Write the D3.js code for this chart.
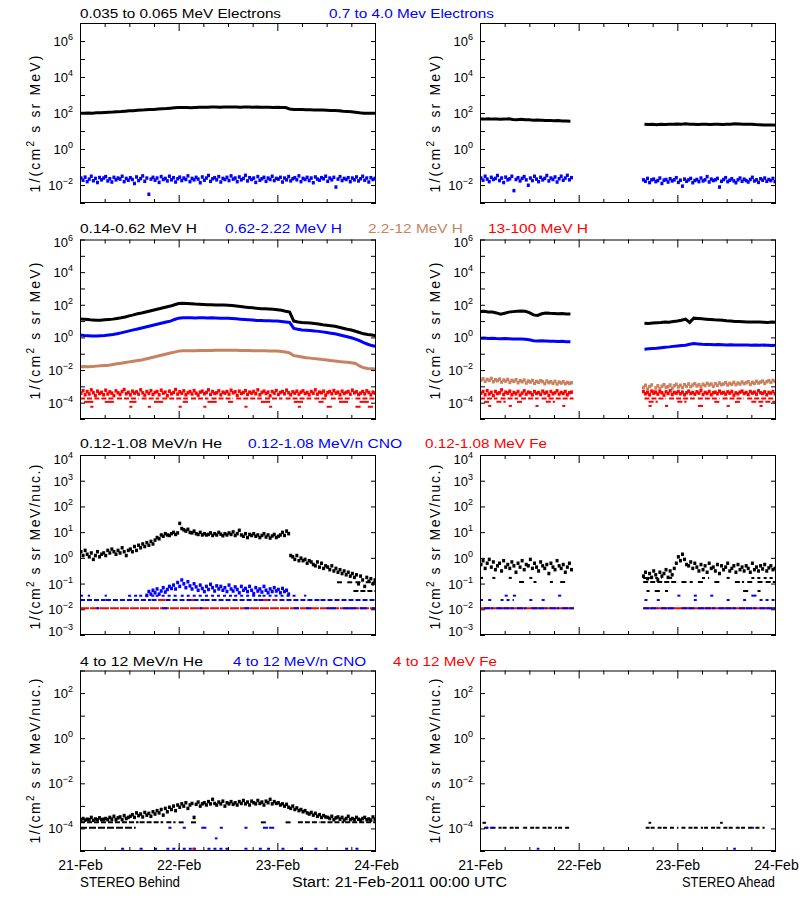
<!DOCTYPE html>
<html><head><meta charset="utf-8">
<script src="https://cdn.jsdelivr.net/npm/d3@7"></script>
<style>body{margin:0;background:#fff}svg{display:block}text{font-family:"Liberation Sans",Arial,sans-serif}</style>
</head><body><svg id="c" width="800" height="900"></svg>
<script>
// ---------- time grids (hours since 21-Feb-2011 00:00) ----------
const tHour = d3.range(0, 73);
const tHalf = d3.range(0.25, 72, 0.5);
const tHourA = d3.range(0, 23).concat(d3.range(40, 73));
const tHalfA = d3.range(0.25, 22.5, 0.5).concat(d3.range(39.75, 72, 0.5));
const tCNOB = d3.range(16.25, 51, 0.5);
const dateTicks = [0, 24, 48, 72];
const dateLabels = ['21-Feb', '22-Feb', '23-Feb', '24-Feb'];

// ---------- values (log10 of intensity) ----------
// Row 1: electrons
const eLoB = [1.98,1.98,2.0,1.99,2.01,2.02,2.03, 2.04,2.05,2.07,2.08,2.1,2.12, 2.13,2.15,2.16,2.18,2.19,2.2, 2.22,2.24,2.25,2.27,2.29,2.31,
 2.3,2.3,2.29,2.31,2.32,2.32, 2.32,2.33,2.33,2.32,2.33,2.34, 2.33,2.33,2.32,2.33,2.33,2.32, 2.33,2.32,2.32,2.32,2.31,2.32,
 2.31,2.3,2.22,2.2,2.2,2.19, 2.18,2.18,2.17,2.16,2.16,2.15, 2.14,2.14,2.12,2.1,2.09,2.07, 2.04,2.01,1.99,1.98,1.98,1.98];
const eHiB = [-1.6,-1.72,-1.55,-1.8,-1.66,-1.5,-1.75,-1.62,-1.85,-1.57,-1.7,-1.6,
 -1.52,-1.76,-1.64,-1.82,-1.56,-1.7,-1.6,-1.66,-1.5,-1.8,-1.62,-1.72,
 -1.58,-1.68,-1.9,-1.54,-1.74,-1.63,-1.48,-1.78,-1.6,-2.5,-1.66,-1.56,
 -1.72,-1.6,-1.84,-1.52,-1.68,-1.62,-1.76,-1.5,-1.7,-1.58,-1.82,-1.64,
 -1.55,-1.74,-1.6,-1.68,-1.48,-1.8,-1.62,-1.7,-1.56,-1.66,-1.86,-1.54,
 -1.72,-1.6,-1.46,-1.78,-1.64,-1.58,-1.7,-1.52,-1.82,-1.62,-1.68,-1.56,
 -1.74,-1.48,-1.66,-1.6,-1.8,-1.54,-1.7,-1.62,-1.45,-1.76,-1.58,-1.68,
 -1.6,-1.84,-1.52,-1.72,-1.64,-1.56,-1.78,-1.6,-1.68,-1.5,-1.74,-1.62,
 -1.66,-1.56,-1.82,-1.6,-1.7,-1.52,-1.76,-1.64,-1.58,-1.7,-1.48,-1.8,
 -1.62,-1.68,-1.56,-1.74,-1.6,-1.86,-1.54,-1.66,-1.72,-1.58,-1.64,-1.5,
 -1.78,-1.6,-1.7,-1.56,-2.1,-1.66,-1.52,-1.74,-1.62,-1.68,-1.58,-1.8,
 -1.6,-1.7,-1.54,-1.76,-1.64,-1.5,-1.72,-1.6,-1.82,-1.58,-1.68,-1.62];
const eLoA = [1.67,1.66,1.68,1.66,1.67,1.65,1.66,1.68,1.64,1.63,1.65,1.62,1.63,1.6,1.61,1.6,1.58,1.59,1.57,1.58,1.56,1.55,1.54,
 1.38,1.36,1.37,1.35,1.37,1.36,1.38,1.37,1.39,1.38,1.4,1.37,1.38,1.36,1.37,1.38,1.36,1.37,1.38,1.36,1.37,1.38,1.4,1.39,1.38,1.37,1.38,1.36,1.35,1.34,1.33,1.34,1.32];
const eHiA = [-1.6,-1.72,-1.5,-1.66,-1.8,-1.56,-1.68,-1.62,-1.46,-1.74,-1.6,-1.85,-1.55,-1.7,-1.64,-1.5,-2.3,-1.68,-1.58,-1.76,
 -1.62,-1.52,-1.7,-2.0,-1.6,-1.74,-1.5,-1.66,-1.8,-1.56,-1.7,-1.62,-1.46,-1.76,-1.6,-1.68,-1.54,-1.82,-1.64,-1.5,-1.72,-1.6,-1.45,-1.7,-1.58,
 -1.7,-1.78,-1.62,-1.85,-1.7,-1.66,-1.8,-1.74,-1.6,-1.9,-1.72,-1.68,-1.82,-1.64,-1.76,-1.7,-1.58,-1.84,-1.72,-2.05,
 -1.66,-1.78,-1.7,-1.62,-1.86,-1.74,-1.68,-1.8,-1.6,-1.76,-1.7,-1.52,-1.82,-1.66,-1.74,-1.7,-1.62,-2.1,-1.78,-1.68,
 -1.58,-1.8,-1.72,-1.64,-1.76,-1.86,-1.7,-1.6,-1.78,-1.66,-1.74,-1.82,-1.68,-1.56,-1.76,-1.7,-1.84,-1.64,-1.72,-1.6,
 -1.78,-1.68,-1.74,-1.62,-1.8];

// Row 2: protons
const h1B = [1.13,1.12,1.1,1.06,1.05,1.05,1.08, 1.1,1.12,1.16,1.2,1.25,1.32, 1.38,1.45,1.5,1.56,1.62,1.68, 1.74,1.8,1.86,1.92,2.0,2.08,
 2.1,2.08,2.06,2.04,2.03,2.02, 2.0,2.0,1.99,1.98,1.98,1.97, 1.95,1.93,1.9,1.86,1.84,1.82, 1.78,1.76,1.75,1.74,1.73,1.7,
 1.66,1.6,1.55,1.0,0.95,0.92, 0.9,0.88,0.85,0.82,0.78,0.75, 0.72,0.68,0.62,0.56,0.5,0.45, 0.38,0.3,0.22,0.18,0.15,0.1];
const h2B = [0.15,0.12,0.1,0.08,0.08,0.1,0.12, 0.15,0.18,0.22,0.28,0.34,0.4, 0.46,0.52,0.58,0.64,0.7,0.76, 0.82,0.88,0.94,1.0,1.1,1.18,
 1.2,1.2,1.2,1.19,1.2,1.2, 1.19,1.2,1.19,1.18,1.18,1.17, 1.16,1.14,1.12,1.1,1.08,1.06, 1.04,1.03,1.02,1.02,1.01,1.0,
 0.98,0.95,0.92,0.55,0.5,0.46, 0.44,0.42,0.4,0.37,0.34,0.3, 0.26,0.22,0.16,0.1,0.04,-0.02, -0.1,-0.2,-0.32,-0.42,-0.5,-0.56];
const h3B = [-1.8,-1.79,-1.8,-1.78,-1.76,-1.74,-1.72, -1.7,-1.66,-1.62,-1.58,-1.54,-1.5, -1.46,-1.42,-1.38,-1.32,-1.26,-1.2,
 -1.14,-1.08,-1.02,-0.96,-0.9,-0.84, -0.82,-0.82,-0.81,-0.81,-0.8,-0.8, -0.8,-0.8,-0.79,-0.79,-0.78,-0.78,
 -0.78,-0.79,-0.8,-0.8,-0.8,-0.81, -0.81,-0.82,-0.82,-0.83,-0.83,-0.84, -0.86,-0.9,-0.95,-1.12,-1.16,-1.2,
 -1.24,-1.27,-1.3,-1.33,-1.36,-1.38, -1.42,-1.45,-1.48,-1.5,-1.52,-1.55, -1.6,-1.75,-1.86,-1.9,-1.92,-1.94];
const h4B = [-3.4,-3.25,-3.5,-3.3,-3.45,-3.2,-3.38,-3.55,-3.28,-3.42,-3.35,-3.5,
 -3.22,-3.45,-3.32,-3.4,-3.55,-3.26,-3.38,-3.48,-3.3,-3.18,-3.44,-3.35,
 -3.5,-3.28,-3.4,-3.32,-3.46,-3.2,-3.38,-3.52,-3.3,-3.42,-3.25,-3.48,
 -3.36,-3.3,-3.5,-3.22,-3.4,-3.34,-3.56,-3.28,-3.44,-3.36,-3.18,-3.46,
 -3.32,-3.4,-3.26,-3.5,-3.38,-3.3,-3.45,-3.24,-3.4,-3.52,-3.34,-3.28,
 -3.44,-3.36,-3.2,-3.48,-3.3,-3.42,-3.38,-3.26,-3.5,-3.34,-3.4,-3.3,
 -3.46,-3.22,-3.38,-3.32,-3.54,-3.28,-3.42,-3.36,-3.25,-3.48,-3.34,-3.4,
 -3.3,-3.44,-3.2,-3.5,-3.36,-3.28,-3.42,-3.34,-3.56,-3.3,-3.4,-3.24,
 -3.48,-3.36,-3.3,-3.44,-3.22,-3.38,-3.5,-3.32,-3.4,-3.28,-3.46,-3.34,
 -3.26,-3.42,-3.36,-3.5,-3.3,-3.4,-3.2,-3.46,-3.34,-3.38,-3.28,-3.52,
 -3.36,-3.3,-3.44,-3.24,-3.4,-3.34,-3.5,-3.28,-3.42,-3.36,-3.3,-3.46,
 -3.22,-3.38,-3.32,-3.48,-3.4,-3.3,-3.44,-3.26,-3.36,-3.5,-3.34,-3.4];
const h1A = [1.58,1.6,1.56,1.55,1.5,1.42,1.48,1.55,1.58,1.6,1.62,1.6,1.52,1.38,1.35,1.45,1.5,1.48,1.47,1.45,1.46,1.44,1.43,
 0.87,0.85,0.88,0.9,0.92,0.95,0.93,0.97,1.0,1.05,1.12,0.92,1.18,1.16,1.14,1.12,1.1,1.08,1.07,1.05,1.02,1.0,0.98,0.97,0.96,0.95,0.95,0.94,0.94,0.93,0.92,0.94,0.93];
const h2A = [-0.05,-0.04,-0.06,-0.05,-0.07,-0.08,-0.06,-0.08,-0.1,-0.09,-0.1,-0.12,-0.15,-0.2,-0.22,-0.2,-0.22,-0.24,-0.23,-0.25,-0.24,-0.26,-0.27,
 -0.72,-0.7,-0.68,-0.66,-0.63,-0.6,-0.58,-0.55,-0.52,-0.5,-0.48,-0.42,-0.38,-0.4,-0.42,-0.43,-0.44,-0.45,-0.44,-0.45,-0.46,-0.45,-0.46,-0.47,-0.46,-0.47,-0.48,-0.47,-0.48,-0.47,-0.48,-0.49,-0.48];
const h3A = [-2.6,-2.52,-2.68,-2.56,-2.62,-2.5,-2.7,-2.58,-2.64,-2.54,-2.72,-2.6,-2.66,-2.56,-2.74,-2.62,-2.68,-2.58,-2.76,-2.64,
 -2.7,-2.6,-2.78,-2.66,-2.72,-2.62,-2.8,-2.68,-2.74,-2.64,-2.7,-2.82,-2.66,-2.76,-2.7,-2.8,-2.68,-2.84,-2.72,-2.78,-2.7,-2.82,-2.74,-2.8,-2.76,
 -3.05,-2.92,-3.15,-3.0,-2.9,-3.3,-3.08,-2.95,-3.12,-2.98,-2.88,-3.05,-3.0,-2.9,-3.1,-2.95,-2.86,-3.02,-2.92,-3.06,
 -2.88,-2.98,-2.84,-3.0,-2.9,-2.82,-2.96,-2.88,-3.02,-2.86,-2.94,-2.8,-2.9,-2.84,-2.98,-2.82,-2.92,-2.78,-2.88,-2.84,
 -2.76,-2.9,-2.8,-2.86,-2.74,-2.88,-2.78,-2.84,-2.72,-2.82,-2.76,-2.7,-2.86,-2.74,-2.8,-2.68,-2.78,-2.72,-2.66,-2.8,
 -2.7,-2.64,-2.74,-2.62,-2.68];
const h4A = [-3.4,-3.3,-3.5,-3.25,-3.45,-3.35,-3.55,-3.3,-3.42,-3.38,-3.2,-3.48,-3.34,-3.4,-3.28,-3.5,-3.36,-3.44,-3.3,-3.52,
 -3.4,-3.26,-3.46,-3.34,-3.38,-3.5,-3.3,-3.42,-3.36,-3.48,-3.28,-3.4,-3.34,-3.54,-3.3,-3.44,-3.38,-3.26,-3.46,-3.36,-3.42,-3.3,-3.5,-3.38,-3.34,
 -3.3,-3.44,-3.36,-3.5,-3.28,-3.4,-3.34,-3.46,-3.3,-3.38,-3.52,-3.32,-3.42,-3.26,-3.48,-3.36,-3.4,-3.3,-3.44,-3.34,
 -3.5,-3.38,-3.28,-3.42,-3.36,-3.46,-3.32,-3.4,-3.24,-3.48,-3.36,-3.42,-3.3,-3.5,-3.38,-3.34,-3.44,-3.28,-3.4,-3.36,
 -3.46,-3.32,-3.4,-3.3,-3.52,-3.38,-3.44,-3.34,-3.28,-3.42,-3.36,-3.48,-3.3,-3.4,-3.34,-3.46,-3.26,-3.38,-3.42,-3.32,
 -3.5,-3.36,-3.4,-3.3,-3.44];

// Row 3: low energy ions
const heB = [0.25,0.1,0.3,0.15,0.05,0.2,-0.05,0.1,0.25,0.05,0.15,0.2,
 0.1,0.3,0.2,0.35,0.25,0.15,0.3,0.2,0.4,0.25,0.1,0.3,
 0.35,0.25,0.45,0.3,0.5,0.4,0.55,0.45,0.6,0.5,0.65,0.55,
 0.7,0.8,0.75,0.9,0.85,0.95,0.9,0.88,0.95,1.0,0.92,0.98,
 1.35,1.15,1.1,1.05,1.12,1.0,0.98,1.05,0.95,0.92,1.0,0.9,
 0.95,0.9,0.92,0.98,0.88,0.95,0.9,1.0,0.93,0.87,0.95,0.9,
 0.98,0.92,1.02,0.88,0.95,1.08,0.9,0.85,0.95,0.8,0.92,0.88,
 0.95,0.85,0.9,0.8,0.88,0.95,0.82,0.9,0.78,0.86,0.92,0.8,
 0.85,0.9,1.0,0.88,1.05,0.95,0.1,0.05,-0.05,0.1,-0.1,0.0,
 -0.1,-0.05,-0.2,-0.1,-0.15,-0.25,-0.3,-0.15,-0.35,-0.2,-0.4,-0.3,
 -0.35,-0.45,-0.3,-0.5,-0.4,-0.55,-0.45,-0.6,-0.5,-0.65,-0.55,-0.7,
 -0.6,-0.75,-0.65,-1.0,-0.7,-0.85,-1.1,-0.75,-0.9,-0.8,-1.0,-0.85];
const cnoB = [-1.45,-1.3,-1.4,-1.25,-1.35,-1.2,-1.4,-1.28,-1.15,-1.32,-1.22,-1.1,
 -1.18,-1.05,-1.2,-0.95,-1.1,-0.85,-1.0,-1.15,-0.92,-1.08,-1.2,-1.0,
 -1.12,-1.25,-1.05,-1.18,-1.3,-1.1,-1.22,-1.02,-1.15,-1.28,-1.08,-1.2,
 -1.1,-1.25,-1.15,-1.3,-1.05,-1.2,-1.28,-1.12,-1.22,-1.35,-1.1,-1.25,
 -1.18,-1.3,-1.1,-1.25,-1.38,-1.15,-1.28,-1.2,-1.32,-1.1,-1.25,-1.35,
 -1.2,-1.3,-1.15,-1.28,-1.22,-1.35,-1.18,-1.3,-1.25,-1.4];
const heA = [-0.25,-0.1,-0.4,-0.2,-0.05,-0.35,-0.15,-0.45,-0.3,-0.2,-0.5,-0.1,-0.35,-0.25,-0.4,-0.15,-0.3,-0.55,-0.2,-0.35,
 -0.1,-0.45,-0.25,-0.3,-0.05,-0.4,-0.2,-0.35,-0.5,-0.15,-0.3,-0.4,-0.25,-0.6,-0.2,-0.35,-0.45,-0.1,-0.3,-0.4,-0.25,-0.55,-0.35,-0.2,-0.45,
 -0.7,-0.55,-0.8,-0.6,-0.75,-0.5,-0.65,-0.85,-0.55,-0.7,-0.6,-0.45,-0.75,-0.5,-0.65,-0.4,
 -0.2,0.05,-0.1,0.15,-0.05,-0.25,
 -0.3,-0.15,-0.4,-0.2,-0.35,-0.5,-0.25,-0.45,-0.3,-0.55,-0.2,-0.4,-0.35,-0.5,-0.25,-0.6,-0.3,-0.45,-0.35,-0.2,
 -0.5,-0.4,-0.3,-0.55,-0.25,-0.45,-0.35,-0.5,-0.3,-0.4,-0.55,-0.2,-0.45,-0.35,-0.5,-0.3,-0.42,-0.25,-0.5,-0.38,-0.3,-0.45,-0.4];

// Row 4: high energy ions
const heHiB = [-3.6,-3.55,-3.62,-3.58,-3.6,-3.5,-3.63,-3.57,-3.6,-3.52,-3.6,-3.58,
 -3.55,-3.6,-3.5,-3.58,-3.45,-3.6,-3.52,-3.48,-3.6,-3.42,-3.55,-3.5,
 -3.45,-3.38,-3.5,-3.3,-3.42,-3.35,-3.48,-3.28,-3.4,-3.32,-3.45,-3.25,
 -3.35,-3.2,-3.3,-3.15,-3.4,-3.1,-3.25,-3.05,-3.15,-3.0,-3.2,-2.95,
 -3.05,-2.9,-3.0,-2.85,-3.1,-2.95,-2.88,-3.5,-2.92,-2.82,-3.0,-2.9,
 -2.85,-2.95,-2.8,-2.9,-2.7,-2.88,-2.95,-2.82,-2.9,-2.78,-3.0,-2.85,
 -2.9,-2.8,-2.92,-2.85,-2.95,-2.8,-2.88,-2.75,-2.9,-2.82,-2.95,-2.78,
 -2.85,-2.9,-2.75,-2.88,-2.82,-2.95,-2.78,-2.85,-2.7,-2.9,-2.8,-2.88,
 -2.85,-2.95,-2.9,-3.0,-2.92,-3.05,-3.1,-3.0,-3.15,-3.08,-3.2,-3.15,
 -3.25,-3.2,-3.3,-3.35,-3.28,-3.4,-3.32,-3.45,-3.38,-3.5,-3.42,-3.48,
 -3.5,-3.55,-3.45,-3.6,-3.52,-3.48,-3.58,-3.5,-3.62,-3.55,-3.45,-3.6,
 -3.55,-3.6,-3.5,-3.58,-3.62,-3.55,-3.5,-3.6,-3.57,-3.62,-3.48,-3.58];

// ---------- count-level floors: [start hour, end hour] pieces at one level ----------
const hRedFloorB1 = [[0,3],[3.5,8],[9,14],[15,19],[20,26],[27,31],[32,37],[38,44],[45,49],[50,56],[57,60],[61,66],[67,72]];
const hRedFloorB2 = [[1,3],[6,8],[12,13.5],[18,20],[25,26],[31,33],[36,37],[44,46],[52,54],[58,59],[63,65],[68,70]];
const hRedFloorB3 = [[2.5,3],[12,12.5],[16.5,17],[24,24.5],[30,30.5],[40,40.5],[46,46.5],[53,53.5],[60,61],[67,68],[70,71]];
const hRedFloorA1 = [[0,4],[5,9],[10,14],[15,22.5],[40,45],[46,52],[53,58],[59,64],[65,72]];
const hRedFloorA2 = [[1,2],[4,6],[9,10],[16,18],[41,43],[48,50],[57,58],[62,63],[66,72]];
const hRedFloorA3 = [[2,2.5],[7,7.5],[13.5,14],[20,20.5],[41,41.5],[45,45.5],[53,54],[60,60.5],[68,68.5]];
const heFloorB1 = [[66.5,72]];
const heFloorB2 = [[62.5,63.5],[65,66],[67,68.5],[69.5,72]];
const cnoFloorB1 = [[0,0.7],[1.9,2.2],[6,6.3],[11.7,14],[14.4,18],[18.4,24],[24.5,30],[30.4,37],[37.5,44],[44.4,52.3],[54.5,54.8]];
const cnoFloorB2 = [[0,6],[6.3,17],[17.4,30],[30.3,43],[43.4,58],[58.5,72]];
const feFloorB2 = [[19,20.5],[27,27.5],[44.5,45.5],[47,47.6]];
const feFloorB3 = [[0,72]];
const cnoFloorB3 = [[4,4.5],[20,21],[29,29.5],[40,41],[52,53],[55,56],[60,62],[64,67],[68,69.5],[71,71.5]];
const heFloorA1 = [[9.5,10.5],[13,13.5],[17,17.5],[19.5,20.5],[39.7,48],[49,50],[51,51.5],[53,54],[57,58],[62,64],[65,66],[67.5,69],[69.5,72]];
const heFloorA2 = [[0,1],[3,4],[7,8],[12,13],[39.7,44],[46,47],[54,55.5],[60,61],[66,68],[69,71]];
const heFloorA3 = [[40.5,41],[42.5,43.5],[45,45.5],[64,65],[67.5,68]];
const cnoFloorA1 = [[6,6.5],[8,8.5],[19,19.5],[48,48.5],[52,52.5],[56,56.5],[66,67]];
const cnoFloorA2 = [[0,0.5],[2,3],[5,8],[12,12.5],[15,15.5],[40,41],[43,44],[52,53],[60,60.5],[64,65],[68,72]];
const feFloorA3 = [[0,22.6],[39.7,72]];
const cnoFloorA3 = [[1,3],[4,8],[9,11],[12.5,16],[17,19],[20,22.6],[39.7,43],[44,47],[49,52],[53,57],[58,62],[63,67],[68,72]];
const heHiFloorB1 = [[0,8],[8.5,14],[14.5,20],[21,23],[24,25],[27,28],[44,45],[50,51],[53,58],[58.5,64],[64.5,72]];
const heHiFloorB2 = [[0,13.3]];
const cnoHiFloorB1 = [[21.5,22],[25,25.5],[29.5,30.5],[34,34.5],[40,40.5],[44.5,45.5],[46,47]];
const cnoHiFloorB2 = [[10,10.5],[14.5,15],[18,18.5],[21,24],[25,27],[27.5,28],[31,36],[40,40.5],[43.5,44.5],[45.5,46.5],[49,49.5],[53.5,54],[57,57.5],[64.5,65],[67,67.5]];
const cnoHiOddB = [[32.8,33.2]];
const feHiFloorB2 = [[27.3,27.7]];
const heHiPtsA = [[0.6,1.2],[41,41.4],[58.4,58.8]];
const heHiFloorA = [[1,2],[2.8,5],[5.5,8],[8.5,10],[10.5,13],[13.5,16],[16.5,18.5],[19,21.6],[40.3,41],[41.5,44],[44.5,48],[49,51.5],[52,54],[54.5,57],[57.5,60],[60.5,63],[63.5,66],[67,69]];
const cnoHiFloorA = [[1.4,1.8],[2.4,2.9],[66,66.4]];
const cnoHiPtsA = [[13.8,14.2],[61.6,62]];

// ---------- styling / layout ----------
const BLACK = '#000000', BLUE = '#0000ff', BROWN = '#c8825f', RED = '#ff0000';
const panelX = [[80, 376], [480, 776]];
const panelY = [[23, 203], [239.5, 419], [455, 635], [670.5, 851]];
const yDomains = [[1e-3, 1e7], [1e-5, 1e6], [1e-3, 1e4], [1e-5, 1e3]];
const yLabelExps = [[6,4,2,0,-2], [6,4,2,0,-2,-4], [4,3,2,1,0,-1,-2,-3], [2,0,-2,-4]];
const yTitles = [['1/(cm','2',' s sr MeV)',137,124], ['1/(cm','2',' s sr MeV)',137,331],
                 ['1/(cm','2',' s sr MeV/nuc.)',165,547], ['1/(cm','2',' s sr MeV/nuc.)',165,761]];
const titles = [
  [['0.035 to 0.065 MeV Electrons',BLACK,80,201],['0.7 to 4.0 Mev Electrons',BLUE,329,165]],
  [['0.14-0.62 MeV H',BLACK,80,117],['0.62-2.22 MeV H',BLUE,225,117],['2.2-12 MeV H',BROWN,368,95],['13-100 MeV H',RED,488,100]],
  [['0.12-1.08 MeV/n He',BLACK,80,142],['0.12-1.08 MeV/n CNO',BLUE,248,154],['0.12-1.08 MeV Fe',RED,425,122]],
  [['4 to 12 MeV/n He',BLACK,80,123],['4 to 12 MeV/n CNO',BLUE,233,133],['4 to 12 MeV Fe',RED,393,104]]
];
const titleBase = [18, 233, 448, 666];

// series per [row][col]
const lines = [
  [[{t:tHour,v:eLoB,c:BLACK}], [{t:tHourA,v:eLoA,c:BLACK}]],
  [[{t:tHour,v:h1B,c:BLACK},{t:tHour,v:h2B,c:BLUE},{t:tHour,v:h3B,c:BROWN}],
   [{t:tHourA,v:h1A,c:BLACK},{t:tHourA,v:h2A,c:BLUE}]],
  [[],[]],[[],[]]
];
const scat = [
  [[{t:tHalf,v:eHiB,c:BLUE}], [{t:tHalfA,v:eHiA,c:BLUE}]],
  [[{t:tHalf,v:h4B,c:RED}], [{t:tHalfA,v:h3A,c:BROWN},{t:tHalfA,v:h4A,c:RED}]],
  [[{t:tHalf,v:heB,c:BLACK},{t:tCNOB,v:cnoB,c:BLUE}], [{t:tHalfA,v:heA,c:BLACK}]],
  [[{t:tHalf,v:heHiB,c:BLACK}], []]
];
const DASH = '5,2', DOT = '3,3';
const floors = [
  [[],[]],
  [[{s:hRedFloorB1,l:-3.74,c:RED,d:DASH},{s:hRedFloorB2,l:-3.95,c:RED},{s:hRedFloorB3,l:-4.25,c:RED}],
   [{s:hRedFloorA1,l:-3.74,c:RED,d:DASH},{s:hRedFloorA2,l:-3.95,c:RED,d:DASH},{s:hRedFloorA3,l:-4.2,c:RED}]],
  [[{s:heFloorB1,l:-1.29,c:BLACK,d:DASH},{s:heFloorB2,l:-0.95,c:BLACK,d:DASH},{s:cnoFloorB1,l:-1.47,c:BLUE,d:DOT},{s:cnoFloorB2,l:-1.64,c:BLUE,d:DASH},
    {s:feFloorB2,l:-1.64,c:RED},{s:feFloorB3,l:-1.96,c:RED,d:'9,1'},{s:cnoFloorB3,l:-1.96,c:BLUE}],
   [{s:heFloorA1,l:-0.94,c:BLACK,d:DASH},{s:heFloorA2,l:-0.78,c:BLACK,d:DOT},{s:heFloorA3,l:-1.29,c:BLACK},{s:cnoFloorA1,l:-1.47,c:BLUE},
    {s:cnoFloorA2,l:-1.64,c:BLUE,d:DOT},{s:feFloorA3,l:-1.96,c:RED},{s:cnoFloorA3,l:-1.96,c:BLUE,d:'6,1'}]],
  [[{s:heHiFloorB1,l:-3.73,c:BLACK,d:DASH},{s:heHiFloorB2,l:-3.97,c:BLACK,d:'7,2'},{s:cnoHiFloorB1,l:-3.97,c:BLUE},{s:cnoHiFloorB2,l:-4.9,c:BLUE,d:DOT},
    {s:cnoHiOddB,l:-4.44,c:BLUE},{s:feHiFloorB2,l:-4.9,c:RED}],
   [{s:heHiPtsA,l:-3.75,c:BLACK},{s:heHiFloorA,l:-3.97,c:BLACK,d:'4,3'},{s:cnoHiFloorA,l:-3.97,c:BLUE},{s:cnoHiPtsA,l:-4.9,c:BLUE}]]
];

// ---------- drawing ----------
const svg = d3.select('#c');
svg.append('rect').attr('width',800).attr('height',900).attr('fill','#fff');
const defs = svg.append('defs');

function segments(t, v) {
  const out = []; let cur = [];
  t.forEach((ti, i) => {
    if (cur.length && ti - cur[cur.length-1][0] > 1.5) { out.push(cur); cur = []; }
    cur.push([ti, v[i]]);
  });
  if (cur.length) out.push(cur);
  return out;
}

for (let r = 0; r < 4; r++) {
  for (let c = 0; c < 2; c++) {
    const x = d3.scaleLinear().domain([0, 72]).range(panelX[c]);
    const y = d3.scaleLog().domain(yDomains[r]).range([panelY[r][1], panelY[r][0]]);
    const id = `clip${r}${c}`;
    defs.append('clipPath').attr('id', id).append('rect')
      .attr('x', panelX[c][0]).attr('y', panelY[r][0])
      .attr('width', panelX[c][1]-panelX[c][0]).attr('height', panelY[r][1]-panelY[r][0]);
    const g = svg.append('g');
    const data = g.append('g').attr('clip-path', `url(#${id})`);

    floors[r][c].forEach(f => {
      data.append('g').selectAll('line').data(f.s).join('line')
        .attr('x1', d => x(d[0])).attr('x2', d => x(d[1]) + 1)
        .attr('y1', y(10 ** f.l)).attr('y2', y(10 ** f.l))
        .attr('stroke', f.c).attr('stroke-width', 2)
        .attr('stroke-dasharray', f.d || null);
    });
    scat[r][c].forEach(s => {
      const pts = s.t.map((ti, i) => [ti, s.v[i]]);
      data.append('g').selectAll('rect').data(pts).join('rect')
        .attr('x', d => x(d[0]) - 1.5).attr('y', d => y(10 ** d[1]) - 1.5)
        .attr('width', 3).attr('height', 3.5).attr('fill', s.c);
    });
    lines[r][c].forEach(s => {
      const ln = d3.line().x(d => x(d[0])).y(d => y(10 ** d[1]));
      segments(s.t, s.v).forEach(seg => {
        data.append('path').attr('d', ln(seg)).attr('fill', 'none')
          .attr('stroke', s.c).attr('stroke-width', 3);
      });
    });

    // axes with inward ticks
    const lo = Math.round(Math.log10(yDomains[r][0])), hi = Math.round(Math.log10(yDomains[r][1]));
    const yTicks = d3.range(lo, hi + 1).map(e => 10 ** e);
    g.append('g').attr('transform', `translate(${panelX[c][0]},0)`).call(d3.axisLeft(y).tickValues(yTicks).tickSize(-5).tickFormat(''));
    g.append('g').attr('transform', `translate(${panelX[c][1]},0)`).call(d3.axisRight(y).tickValues(yTicks).tickSize(-5).tickFormat(''));
    const minorX = [6,12,18,30,36,42,54,60,66], majorX = [24,48];
    g.append('g').attr('transform', `translate(0,${panelY[r][1]})`).call(d3.axisBottom(x).tickValues(minorX).tickSize(-4).tickFormat(''));
    g.append('g').attr('transform', `translate(0,${panelY[r][1]})`).call(d3.axisBottom(x).tickValues(majorX).tickSize(-8).tickFormat(''));
    g.append('g').attr('transform', `translate(0,${panelY[r][0]})`).call(d3.axisTop(x).tickValues(minorX).tickSize(-4).tickFormat(''));
    g.append('g').attr('transform', `translate(0,${panelY[r][0]})`).call(d3.axisTop(x).tickValues(majorX).tickSize(-8).tickFormat(''));
    g.selectAll('.domain').remove();
    g.selectAll('.tick line').attr('stroke', '#000').attr('stroke-width', 1);
    g.append('rect').attr('x', panelX[c][0] + 0.5).attr('y', panelY[r][0] + 0.5)
      .attr('width', panelX[c][1] - panelX[c][0] - 1).attr('height', panelY[r][1] - panelY[r][0] - 1)
      .attr('fill', 'none').attr('stroke', '#000').attr('stroke-width', 1);

    // y tick labels 10^n (labels at the frame edges are nudged inward, as in the original)
    yLabelExps[r].forEach(e => {
      const nudge = e === hi ? (r === 2 ? 4 : 2.5) : (e === lo ? -4 : 0);
      const tx = g.append('text').attr('x', panelX[c][0] - 7).attr('y', y(10 ** e) + 5 + nudge)
        .attr('text-anchor', 'end').attr('font-size', 13).attr('fill', '#000');
      tx.append('tspan').text('10');
      tx.append('tspan').attr('dy', -6).attr('font-size', 9).text(String(e).replace('-', '\u2212'));
    });

    // y axis title
    const yt = yTitles[r];
    const tt = g.append('text').attr('transform', `translate(${panelX[c][0] - 40},${yt[4]}) rotate(-90)`)
      .attr('text-anchor', 'middle').attr('font-size', 14).attr('fill', '#000')
      .attr('textLength', yt[3]).attr('lengthAdjust', 'spacing');
    tt.append('tspan').text(yt[0]);
    tt.append('tspan').attr('dy', -6).attr('font-size', 10).text(yt[1]);
    tt.append('tspan').attr('dy', 6).text(yt[2]);

    // date labels on bottom row
    if (r === 3) {
      const ax = d3.axisBottom(x).tickValues(dateTicks).tickSize(0).tickPadding(9)
        .tickFormat((d, i) => dateLabels[i]);
      const ga = svg.append('g').attr('transform', `translate(0,${panelY[r][1]})`).call(ax);
      ga.select('.domain').remove();
      ga.selectAll('text').attr('font-size', 14).attr('font-family', '"Liberation Sans",Arial,sans-serif').attr('fill', '#000');
    }
  }
}

// panel titles
titles.forEach((row, r) => row.forEach(([txt, col, x0, w]) => {
  svg.append('text').attr('x', x0).attr('y', titleBase[r]).attr('font-size', 12.5)
    .attr('fill', col).attr('textLength', w).attr('lengthAdjust', 'spacingAndGlyphs').text(txt);
}));

// footer
svg.append('text').attr('x', 80).attr('y', 886.5).attr('font-size', 14).attr('textLength', 100).attr('lengthAdjust', 'spacingAndGlyphs').text('STEREO Behind');
svg.append('text').attr('x', 292).attr('y', 886.5).attr('font-size', 14).attr('textLength', 215).attr('lengthAdjust', 'spacingAndGlyphs').text('Start: 21-Feb-2011 00:00 UTC');
svg.append('text').attr('x', 682).attr('y', 886.5).attr('font-size', 14).attr('textLength', 93).attr('lengthAdjust', 'spacingAndGlyphs').text('STEREO Ahead');
</script></body></html>
